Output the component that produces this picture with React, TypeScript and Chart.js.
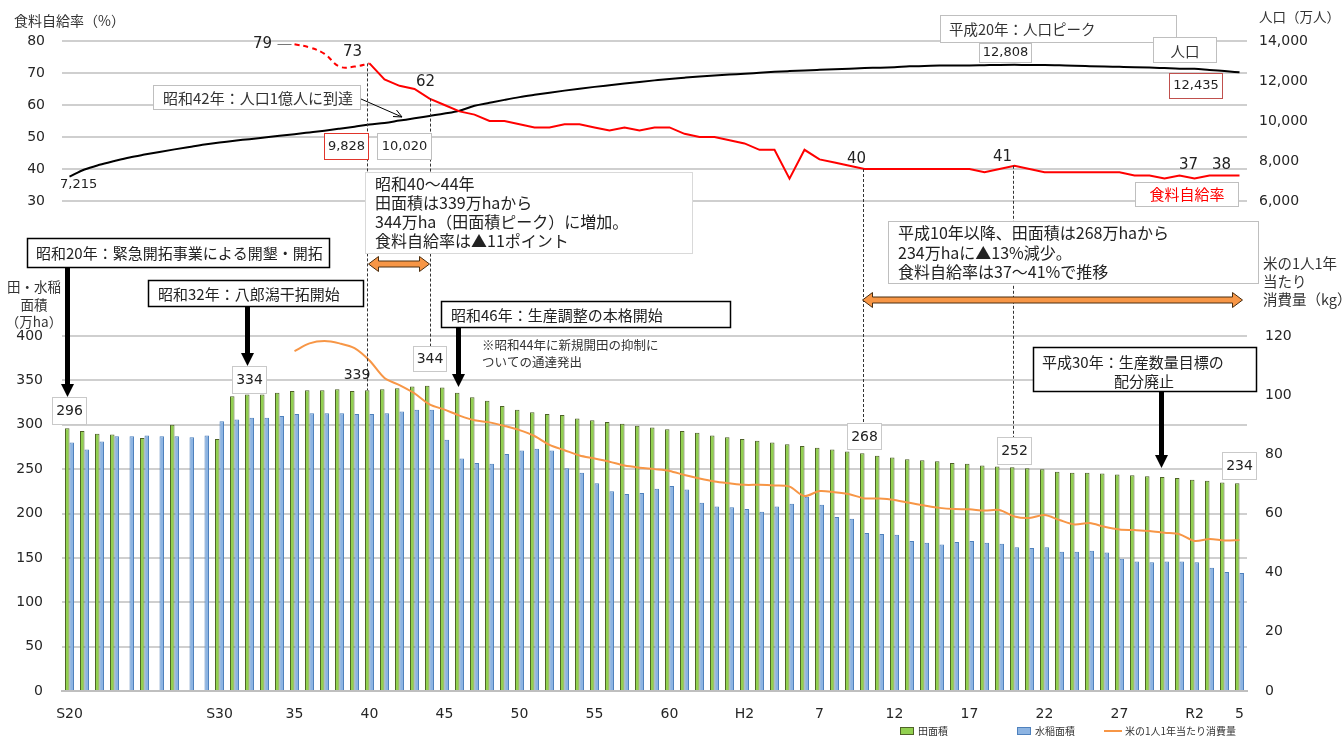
import React, { useEffect, useRef } from 'react';
import { Chart, registerables } from 'chart.js';

Chart.register(...registerables);

const W = 1342;
const H = 736;

// Categories: S20 (1945) ... R5 (2023)
const X_LABELS = [
  'S20', '', '', '', '', '', '', '', '', '',
  'S30', '', '', '', '', '35', '', '', '', '',
  '40', '', '', '', '', '45', '', '', '', '',
  '50', '', '', '', '', '55', '', '', '', '',
  '60', '', '', '', '', 'H2', '', '', '', '',
  '7', '', '', '', '', '12', '', '', '', '',
  '17', '', '', '', '', '22', '', '', '', '',
  '27', '', '', '', '', 'R2', '', '', '5',
];

// 田面積 (万ha) 1945-2023
const PADDY_AREA = [
  296, 293, 290, 289, null, 285, null, 300, null, null,
  284, 332, 334, 334, 336, 338, 339, 339, 340, 338,
  339, 340, 341, 343, 344, 342, 336, 331, 327, 321,
  317, 314, 312, 311, 307, 305, 303, 301, 299, 297,
  295, 293, 291, 288, 286, 284, 282, 280, 278, 276,
  274, 272, 270, 268, 265, 263, 261, 260, 259, 257,
  256, 254, 253, 252, 251, 250, 247, 246, 246, 245,
  244, 243, 242, 241, 240, 238, 237, 235, 234,
];

// 水稲面積 (万ha) 1945-2023
const RICE_AREA = [
  280, 272, 281, 287, 287, 288, 287, 287, 286, 288,
  304, 306, 308, 308, 310, 312, 313, 313, 313, 312,
  312, 313, 315, 317, 317, 283, 262, 257, 256, 267,
  271, 273, 271, 251, 246, 234, 225, 222, 223, 228,
  231, 227, 212, 208, 207, 205, 202, 208, 211, 219,
  210, 196, 194, 178, 177, 176, 169, 167, 165, 168,
  169, 167, 166, 162, 161, 162, 157, 157, 158, 156,
  149, 146, 145, 146, 146, 145, 139, 134, 133,
];

// 米の1人1年当たり消費量 (kg) 1960-2023
const RICE_CONSUMPTION = [
  114.9, 117.5, 118.3, 117.5, 115.9, 111.7, 105.8, 103.4, 100.6, 96.9,
  95.1, 93.1, 91.5, 90.8, 89.6, 88.2, 86.2, 83.2, 81.4, 79.6,
  78.6, 77.5, 76.2, 75.5, 75.0, 74.4, 73.0, 71.8, 70.8, 70.2,
  69.7, 69.7, 69.5, 69.1, 65.9, 67.6, 67.2, 66.5, 65.1, 65.1,
  64.6, 63.6, 62.7, 61.9, 61.5, 61.4, 61.0, 61.2, 59.0, 58.5,
  59.5, 57.8, 56.3, 56.8, 55.5, 54.6, 54.4, 54.1, 53.5, 53.0,
  50.7, 51.4, 50.9, 51.0,
];

// 食料自給率 (%) 1960-1965 (dashed)
const SELF_SUFF_EARLY = [79, 78, 76, 72, 72, 73];
// 食料自給率 (%) 1965-2023
const SELF_SUFF = [
  73, 68, 66, 65, 62,
  60, 58, 57, 55, 55, 54, 53, 53, 54, 54,
  53, 52, 53, 52, 53, 53, 51, 50, 50, 49,
  48, 46, 46, 37, 46, 43, 42, 41, 40, 40,
  40, 40, 40, 40, 40, 40, 39, 40, 41, 40,
  39, 39, 39, 39, 39, 39, 38, 38, 37, 38,
  37, 38, 38, 38,
];

// 人口 (万人) 1945-2023
const POPULATION = [
  7215, 7575, 7810, 8000, 8177, 8320, 8454, 8581, 8703, 8823,
  8928, 9017, 9093, 9177, 9264, 9342, 9429, 9518, 9616, 9718,
  9828, 9904, 10020, 10133, 10254, 10372, 10515, 10760, 10910, 11057,
  11194, 11309, 11417, 11519, 11616, 11706, 11790, 11873, 11954, 12031,
  12105, 12166, 12224, 12275, 12321, 12361, 12410, 12457, 12494, 12527,
  12557, 12586, 12616, 12647, 12667, 12693, 12732, 12749, 12769, 12779,
  12777, 12790, 12803, 12808, 12803, 12806, 12783, 12759, 12741, 12724,
  12709, 12693, 12671, 12644, 12617, 12615, 12550, 12495, 12435,
];

const JP = '"Noto Sans CJK JP", "Noto Sans", sans-serif';
const NUM = '"DejaVu Sans", Verdana, sans-serif';
const TICK_COLOR = '#262626';
const GRID_COLOR = '#CFCFCF';

const pad = (n: number) => Array(n).fill(null);

function txt(ctx: CanvasRenderingContext2D, s: string, x: number, y: number, font: string, color = '#222', align: CanvasTextAlign = 'center') {
  ctx.font = font;
  ctx.fillStyle = color;
  ctx.textAlign = align;
  ctx.textBaseline = 'middle';
  ctx.fillText(s, x, y);
}

function rect(ctx: CanvasRenderingContext2D, x: number, y: number, w: number, h: number, stroke: string | null, lw = 1) {
  ctx.fillStyle = '#fff';
  ctx.fillRect(x, y, w, h);
  if (stroke) {
    ctx.strokeStyle = stroke;
    ctx.lineWidth = lw;
    ctx.setLineDash([]);
    ctx.strokeRect(x + 0.5, y + 0.5, w - 1, h - 1);
  }
}

function downArrow(ctx: CanvasRenderingContext2D, x: number, y1: number, y2: number) {
  const hw = 6.5, hh = 13, sw = 2.5;
  ctx.fillStyle = '#000';
  ctx.fillRect(x - sw, y1, sw * 2, y2 - y1 - hh + 1);
  ctx.beginPath();
  ctx.moveTo(x - hw, y2 - hh);
  ctx.lineTo(x + hw, y2 - hh);
  ctx.lineTo(x, y2);
  ctx.closePath();
  ctx.fill();
}

function dblArrow(ctx: CanvasRenderingContext2D, x1: number, x2: number, y: number) {
  const hl = 10, hh = 7.5, sh = 3;
  ctx.beginPath();
  ctx.moveTo(x1, y);
  ctx.lineTo(x1 + hl, y - hh);
  ctx.lineTo(x1 + hl, y - sh);
  ctx.lineTo(x2 - hl, y - sh);
  ctx.lineTo(x2 - hl, y - hh);
  ctx.lineTo(x2, y);
  ctx.lineTo(x2 - hl, y + hh);
  ctx.lineTo(x2 - hl, y + sh);
  ctx.lineTo(x1 + hl, y + sh);
  ctx.lineTo(x1 + hl, y + hh);
  ctx.closePath();
  ctx.fillStyle = '#F79646';
  ctx.fill();
  ctx.strokeStyle = '#4A2E10';
  ctx.lineWidth = 1;
  ctx.setLineDash([]);
  ctx.stroke();
}

function dotted(ctx: CanvasRenderingContext2D, x: number, y1: number, y2: number) {
  ctx.save();
  ctx.setLineDash([3, 2]);
  ctx.strokeStyle = '#333';
  ctx.lineWidth = 1;
  ctx.beginPath();
  const xx = Math.round(x) + 0.5;
  ctx.moveTo(xx, y1);
  ctx.lineTo(xx, y2);
  ctx.stroke();
  ctx.restore();
}

function makeAnnotations(getTop: () => Chart | null) {
  return {
    id: 'annotations',
    afterDraw(chart: any) {
      const top: any = getTop();
      if (!top) return;
      const ctx: CanvasRenderingContext2D = chart.ctx;
      const X = (i: number) => chart.scales.x.getPixelForValue(i);
      const yTL = (v: number) => top.scales.yL.getPixelForValue(v);
      const yBL = (v: number) => chart.scales.yL.getPixelForValue(v);
      ctx.save();

      // axis titles
      txt(ctx, '食料自給率（%）', 14, 21, `14px ${JP}`, '#333', 'left');
      txt(ctx, '人口（万人）', 1259, 17, `13.5px ${JP}`, '#333', 'left');
      txt(ctx, '田・水稲', 34, 287, `13.5px ${JP}`, '#333');
      txt(ctx, '面積', 34, 305, `13.5px ${JP}`, '#333');
      txt(ctx, '（万ha）', 34, 322, `13.5px ${JP}`, '#333');
      txt(ctx, '米の1人1年', 1263, 263, `14.5px ${JP}`, '#333', 'left');
      txt(ctx, '当たり', 1263, 281, `14.5px ${JP}`, '#333', 'left');
      txt(ctx, '消費量（kg）', 1263, 299, `14.5px ${JP}`, '#333', 'left');

      // dotted reference lines
      dotted(ctx, X(20) - 3, yTL(73), yBL(339));
      dotted(ctx, X(24), yTL(62), 346);
      dotted(ctx, X(53) - 1, yTL(40), 423);
      dotted(ctx, X(63) - 2, yTL(41), 437);

      // top panel boxes
      rect(ctx, 153, 85, 208, 25, '#BFBFBF');
      txt(ctx, '昭和42年：人口1億人に到達', 163, 98, `15px ${JP}`, '#333', 'left');
      // thin arrow
      ctx.strokeStyle = '#000';
      ctx.lineWidth = 1;
      ctx.setLineDash([]);
      ctx.beginPath();
      ctx.moveTo(361, 99);
      ctx.lineTo(402, 117);
      ctx.moveTo(402, 117);
      ctx.lineTo(393, 116.5);
      ctx.moveTo(402, 117);
      ctx.lineTo(396.5, 110);
      ctx.stroke();

      rect(ctx, 324, 133, 45, 27, '#E0352B');
      txt(ctx, '9,828', 346.5, 147, `13px ${NUM}`, '#222');
      rect(ctx, 377, 133, 55, 27, '#BFBFBF');
      txt(ctx, '10,020', 404.5, 147, `13px ${NUM}`, '#222');

      rect(ctx, 940, 15, 237, 28, '#BFBFBF');
      txt(ctx, '平成20年：人口ピーク', 949, 29, `14.5px ${JP}`, '#333', 'left');
      rect(ctx, 979, 43, 53, 20, '#BFBFBF');
      txt(ctx, '12,808', 1005.5, 53, `13px ${NUM}`, '#222');
      rect(ctx, 1153, 37, 64, 26, '#BFBFBF');
      txt(ctx, '人口', 1185, 51, `14.5px ${JP}`, '#333');
      rect(ctx, 1169, 73, 54, 26, '#C0504D');
      txt(ctx, '12,435', 1196, 86, `13px ${NUM}`, '#222');
      rect(ctx, 1135, 182, 104, 25, '#BFBFBF');
      txt(ctx, '食料自給率', 1187, 194, `15px ${JP}`, '#FF0000');

      // top labels
      txt(ctx, '7,215', 60, 185, `13px ${NUM}`, '#222', 'left');
      txt(ctx, '79', X(15) - 32, yTL(79), `15px ${NUM}`, '#222');
      ctx.strokeStyle = '#777';
      ctx.lineWidth = 1;
      ctx.beginPath();
      ctx.moveTo(X(15) - 17, Math.round(yTL(79)) + 0.5);
      ctx.lineTo(X(15) - 3, Math.round(yTL(79)) + 0.5);
      ctx.stroke();
      txt(ctx, '73', X(20) - 17, yTL(73) - 11, `15px ${NUM}`, '#222');
      txt(ctx, '62', X(24) - 4, yTL(62) - 16, `15px ${NUM}`, '#222');
      txt(ctx, '40', X(53) - 8, yTL(40) - 10, `15px ${NUM}`, '#222');
      txt(ctx, '41', X(63) - 12, yTL(41) - 9, `15px ${NUM}`, '#222');
      txt(ctx, '37', X(75) - 6, yTL(37) - 13, `15px ${NUM}`, '#222');
      txt(ctx, '38', X(77) - 3, yTL(38) - 10, `15px ${NUM}`, '#222');

      // middle boxes
      rect(ctx, 365, 172, 328, 82, '#D9D9D9');
      const l1 = ['昭和40～44年', '田面積は339万haから', '344万ha（田面積ピーク）に増加。', '食料自給率は▲11ポイント'];
      l1.forEach((s, i) => txt(ctx, s, 375, 184 + i * 19, `16px ${JP}`, '#222', 'left'));
      dblArrow(ctx, X(20) - 1, X(24), 264);

      rect(ctx, 888, 221, 371, 63, '#BFBFBF');
      const l2 = ['平成10年以降、田面積は268万haから', '234万haに▲13%減少。', '食料自給率は37～41%で推移'];
      l2.forEach((s, i) => txt(ctx, s, 898, 233 + i * 19.5, `16px ${JP}`, '#222', 'left'));
      dblArrow(ctx, X(53) - 2, X(78) + 3, 300);

      rect(ctx, 27, 238, 303, 30, '#000', 1.5);
      txt(ctx, '昭和20年：緊急開拓事業による開墾・開拓', 36, 253, `15px ${JP}`, '#222', 'left');
      downArrow(ctx, X(0) - 2, 268, 397);

      rect(ctx, 148, 280, 216, 27, '#000', 1.5);
      txt(ctx, '昭和32年：八郎潟干拓開始', 158, 294, `15px ${JP}`, '#222', 'left');
      downArrow(ctx, X(12) - 2, 307, 366);

      rect(ctx, 441, 301, 290, 27, '#000', 1.5);
      txt(ctx, '昭和46年：生産調整の本格開始', 451, 315, `15px ${JP}`, '#222', 'left');
      downArrow(ctx, X(26) - 1, 328, 387);
      txt(ctx, '※昭和44年に新規開田の抑制に', 482, 345, `12.5px ${JP}`, '#333', 'left');
      txt(ctx, 'ついての通達発出', 482, 362, `12.5px ${JP}`, '#333', 'left');

      rect(ctx, 1033, 347, 224, 45, '#000', 1.5);
      txt(ctx, '平成30年：生産数量目標の', 1042, 362, `15px ${JP}`, '#222', 'left');
      txt(ctx, '配分廃止', 1144, 381, `15px ${JP}`, '#222');
      downArrow(ctx, X(73) - 3, 392, 468);

      // bar value boxes
      const vb = (s: string, x: number, y: number, w = 35, h = 28) => {
        rect(ctx, x, y, w, h, '#C9C9C9');
        txt(ctx, s, x + w / 2, y + h / 2 + 0.5, `14px ${NUM}`, '#222');
      };
      vb('296', 52, 397);
      vb('334', 232, 366);
      vb('344', 413, 346, 34, 26);
      vb('268', 847, 423, 35, 27);
      vb('252', 997, 437);
      vb('234', 1222, 452);
      txt(ctx, '339', 357, 375, `14px ${NUM}`, '#222');

      // legend
      ctx.fillStyle = '#92D050';
      ctx.fillRect(900, 727, 14, 8);
      ctx.strokeStyle = '#4F6228';
      ctx.lineWidth = 1;
      ctx.strokeRect(900.5, 727.5, 13, 7);
      txt(ctx, '田面積', 918, 731, `10px ${JP}`, '#333', 'left');
      ctx.fillStyle = '#8DB4E2';
      ctx.fillRect(1017, 727, 14, 8);
      ctx.strokeStyle = '#4F81BD';
      ctx.strokeRect(1017.5, 727.5, 13, 7);
      txt(ctx, '水稲面積', 1035, 731, `10px ${JP}`, '#333', 'left');
      ctx.strokeStyle = '#F79646';
      ctx.lineWidth = 2;
      ctx.beginPath();
      ctx.moveTo(1104, 731);
      ctx.lineTo(1122, 731);
      ctx.stroke();
      txt(ctx, '米の1人1年当たり消費量', 1125, 731, `10px ${JP}`, '#333', 'left');

      ctx.restore();
    },
  };
}

export default function App() {
  const topRef = useRef<HTMLCanvasElement>(null);
  const botRef = useRef<HTMLCanvasElement>(null);

  useEffect(() => {
    if (!topRef.current || !botRef.current) return;
    const tickFont = { family: NUM, size: 14 };

    const top = new Chart(topRef.current, {
      type: 'line',
      data: {
        labels: X_LABELS,
        datasets: [
          {
            label: '食料自給率',
            data: [...pad(20), ...SELF_SUFF],
            yAxisID: 'yL',
            borderColor: '#FF0000',
            borderWidth: 2,
            pointRadius: 0,
            tension: 0,
          },
          {
            label: '食料自給率（推計）',
            data: [...pad(15), ...SELF_SUFF_EARLY, ...pad(79 - 21)],
            yAxisID: 'yL',
            borderColor: '#FF0000',
            borderWidth: 2,
            borderDash: [5, 4],
            pointRadius: 0,
            tension: 0.4,
          },
          {
            label: '人口',
            data: POPULATION,
            yAxisID: 'yR',
            borderColor: '#000000',
            borderWidth: 2,
            pointRadius: 0,
            cubicInterpolationMode: 'monotone',
          },
        ],
      },
      options: {
        responsive: false,
        animation: false,
        layout: { padding: { top: 41, bottom: H - 201, left: 0, right: 0 } },
        plugins: { legend: { display: false }, tooltip: { enabled: false } },
        scales: {
          x: { type: 'category', display: false, offset: true, grid: { display: false } },
          yL: {
            position: 'left',
            min: 30,
            max: 80,
            ticks: { stepSize: 10, padding: 17, font: tickFont, color: TICK_COLOR },
            grid: { color: GRID_COLOR, lineWidth: 2, drawTicks: false },
            border: { display: false },
            afterFit: (s: any) => { s.width = 62; },
          },
          yR: {
            position: 'right',
            min: 6000,
            max: 14000,
            ticks: {
              stepSize: 2000,
              padding: 12,
              font: tickFont,
              color: TICK_COLOR,
              callback: (v: any) => Number(v).toLocaleString('en-US'),
            },
            grid: { display: false, drawTicks: false },
            border: { display: false },
            afterFit: (s: any) => { s.width = 95; },
          },
        },
      },
    } as any);

    const bottom = new Chart(botRef.current, {
      type: 'bar',
      data: {
        labels: X_LABELS,
        datasets: [
          {
            type: 'line',
            label: '米の1人1年当たり消費量',
            data: [...pad(15), ...RICE_CONSUMPTION],
            yAxisID: 'yR',
            borderColor: '#F79646',
            borderWidth: 2,
            pointRadius: 0,
            tension: 0.3,
            order: 0,
          },
          {
            label: '田面積',
            data: PADDY_AREA,
            yAxisID: 'yL',
            backgroundColor: '#92D050',
            borderColor: '#4F6228',
            borderWidth: 1,
            categoryPercentage: 0.6,
            barPercentage: 1.0,
            order: 1,
          },
          {
            label: '水稲面積',
            data: RICE_AREA,
            yAxisID: 'yL',
            backgroundColor: '#8DB4E2',
            borderColor: '#4F81BD',
            borderWidth: 1,
            categoryPercentage: 0.6,
            barPercentage: 1.0,
            order: 1,
          },
        ],
      },
      options: {
        responsive: false,
        animation: false,
        layout: { padding: { top: 336, bottom: 0, left: 0, right: 0 } },
        plugins: { legend: { display: false }, tooltip: { enabled: false } },
        scales: {
          x: {
            type: 'category',
            offset: true,
            grid: { display: false, drawTicks: false },
            border: { display: true, color: '#BFBFBF', width: 2 },
            ticks: {
              autoSkip: false,
              maxRotation: 0,
              minRotation: 0,
              padding: 15,
              font: tickFont,
              color: TICK_COLOR,
            },
            afterFit: (s: any) => { s.height = H - 691; },
          },
          yL: {
            position: 'left',
            min: 0,
            max: 400,
            ticks: { stepSize: 50, padding: 19, font: tickFont, color: TICK_COLOR },
            grid: { color: GRID_COLOR, lineWidth: 2, drawTicks: false },
            border: { display: false },
            afterFit: (s: any) => { s.width = 62; },
          },
          yR: {
            position: 'right',
            min: 0,
            max: 120,
            ticks: { stepSize: 20, padding: 18, font: tickFont, color: TICK_COLOR },
            grid: { display: false, drawTicks: false },
            border: { display: false },
            afterFit: (s: any) => { s.width = 95; },
          },
        },
      },
      plugins: [makeAnnotations(() => top)],
    } as any);

    return () => {
      bottom.destroy();
      top.destroy();
    };
  }, []);

  return (
    <div style={{ position: 'absolute', left: 0, top: 0, width: W, height: H, background: '#fff' }}>
      <canvas ref={topRef} width={W} height={H} style={{ position: 'absolute', left: 0, top: 0 }} />
      <canvas ref={botRef} width={W} height={H} style={{ position: 'absolute', left: 0, top: 0 }} />
    </div>
  );
}
